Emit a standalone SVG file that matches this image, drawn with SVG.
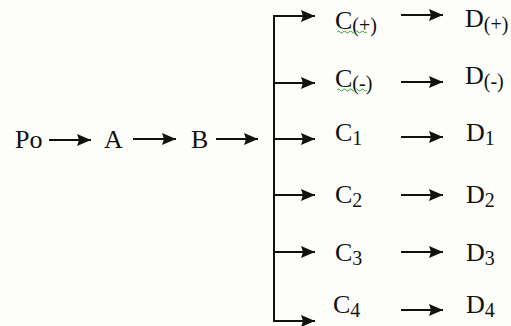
<svg xmlns="http://www.w3.org/2000/svg" width="511" height="326" viewBox="0 0 511 326">
  <defs>
    <marker id="ah" markerUnits="userSpaceOnUse" markerWidth="15" markerHeight="14" refX="14" refY="7" orient="auto">
      <path d="M0,1 L14,7 L0,13 L2,7 Z" fill="#111"/>
    </marker>
  </defs>
  <style>
    .t { font-family: "Liberation Serif", "Times New Roman", serif; font-size: 26px; fill: #111; }
    .s { font-size: 20px; }
    .c { stroke: #111; stroke-width: 2; fill: none; }
    .a { marker-end: url(#ah); }
    .w { stroke: #3aa23a; stroke-width: 1; fill: none; }
  </style>
  <rect width="511" height="326" fill="#fdfdf9"/>
  <g id="connectors">
    <line class="c a" x1="49" y1="140" x2="91" y2="140"/>
    <line class="c a" x1="133" y1="139" x2="176" y2="139"/>
    <line class="c a" x1="216" y1="139" x2="258" y2="139"/>
    <line class="c" x1="274" y1="15" x2="274" y2="322"/>
    <line class="c a" x1="273" y1="16" x2="315" y2="16"/>
    <line class="c a" x1="274" y1="83" x2="315" y2="83"/>
    <line class="c a" x1="274" y1="139" x2="315" y2="139"/>
    <line class="c a" x1="274" y1="195" x2="315" y2="195"/>
    <line class="c a" x1="274" y1="252" x2="315" y2="252"/>
    <line class="c a" x1="273" y1="321" x2="315" y2="321"/>
    <line class="c a" x1="401" y1="15" x2="443" y2="15"/>
    <line class="c a" x1="401" y1="82" x2="443" y2="82"/>
    <line class="c a" x1="401" y1="137" x2="443" y2="137"/>
    <line class="c a" x1="401" y1="195" x2="443" y2="195"/>
    <line class="c a" x1="401" y1="252" x2="443" y2="252"/>
    <line class="c a" x1="401" y1="310" x2="443" y2="310"/>
  </g>
  <g id="Po"><text class="t" x="15" y="148">Po</text></g>
  <g id="A"><text class="t" x="104" y="148">A</text></g>
  <g id="B"><text class="t" x="191" y="148">B</text></g>
  <g id="Cplus">
    <text class="t" x="335" y="29">C<tspan class="s" dy="3">(+)</tspan></text>
    <path class="w" d="M337,32 q1.5,-2 3,0 t3,0 t3,0 t3,0 t3,0 t3,0 t3,0 t3,0 t3,0 t3,0"/>
  </g>
  <g id="Cminus">
    <text class="t" x="335" y="87">C<tspan class="s" dy="3">(-)</tspan></text>
    <path class="w" d="M337,90 q1.5,-2 3,0 t3,0 t3,0 t3,0 t3,0 t3,0 t3,0 t3,0 t3,0 t3,0"/>
  </g>
  <g id="C1"><text class="t" x="335" y="141">C<tspan class="s" dy="4">1</tspan></text></g>
  <g id="C2"><text class="t" x="335" y="203">C<tspan class="s" dy="4">2</tspan></text></g>
  <g id="C3"><text class="t" x="335" y="261">C<tspan class="s" dy="4">3</tspan></text></g>
  <g id="C4"><text class="t" x="333" y="313">C<tspan class="s" dy="4">4</tspan></text></g>
  <g id="Dplus"><text class="t" x="465" y="27">D<tspan class="s" dy="4">(+)</tspan></text></g>
  <g id="Dminus"><text class="t" x="465" y="84">D<tspan class="s" dy="4">(-)</tspan></text></g>
  <g id="D1"><text class="t" x="466" y="141">D<tspan class="s" dy="4">1</tspan></text></g>
  <g id="D2"><text class="t" x="466" y="203">D<tspan class="s" dy="4">2</tspan></text></g>
  <g id="D3"><text class="t" x="466" y="261">D<tspan class="s" dy="4">3</tspan></text></g>
  <g id="D4"><text class="t" x="466" y="313">D<tspan class="s" dy="4">4</tspan></text></g>
</svg>
